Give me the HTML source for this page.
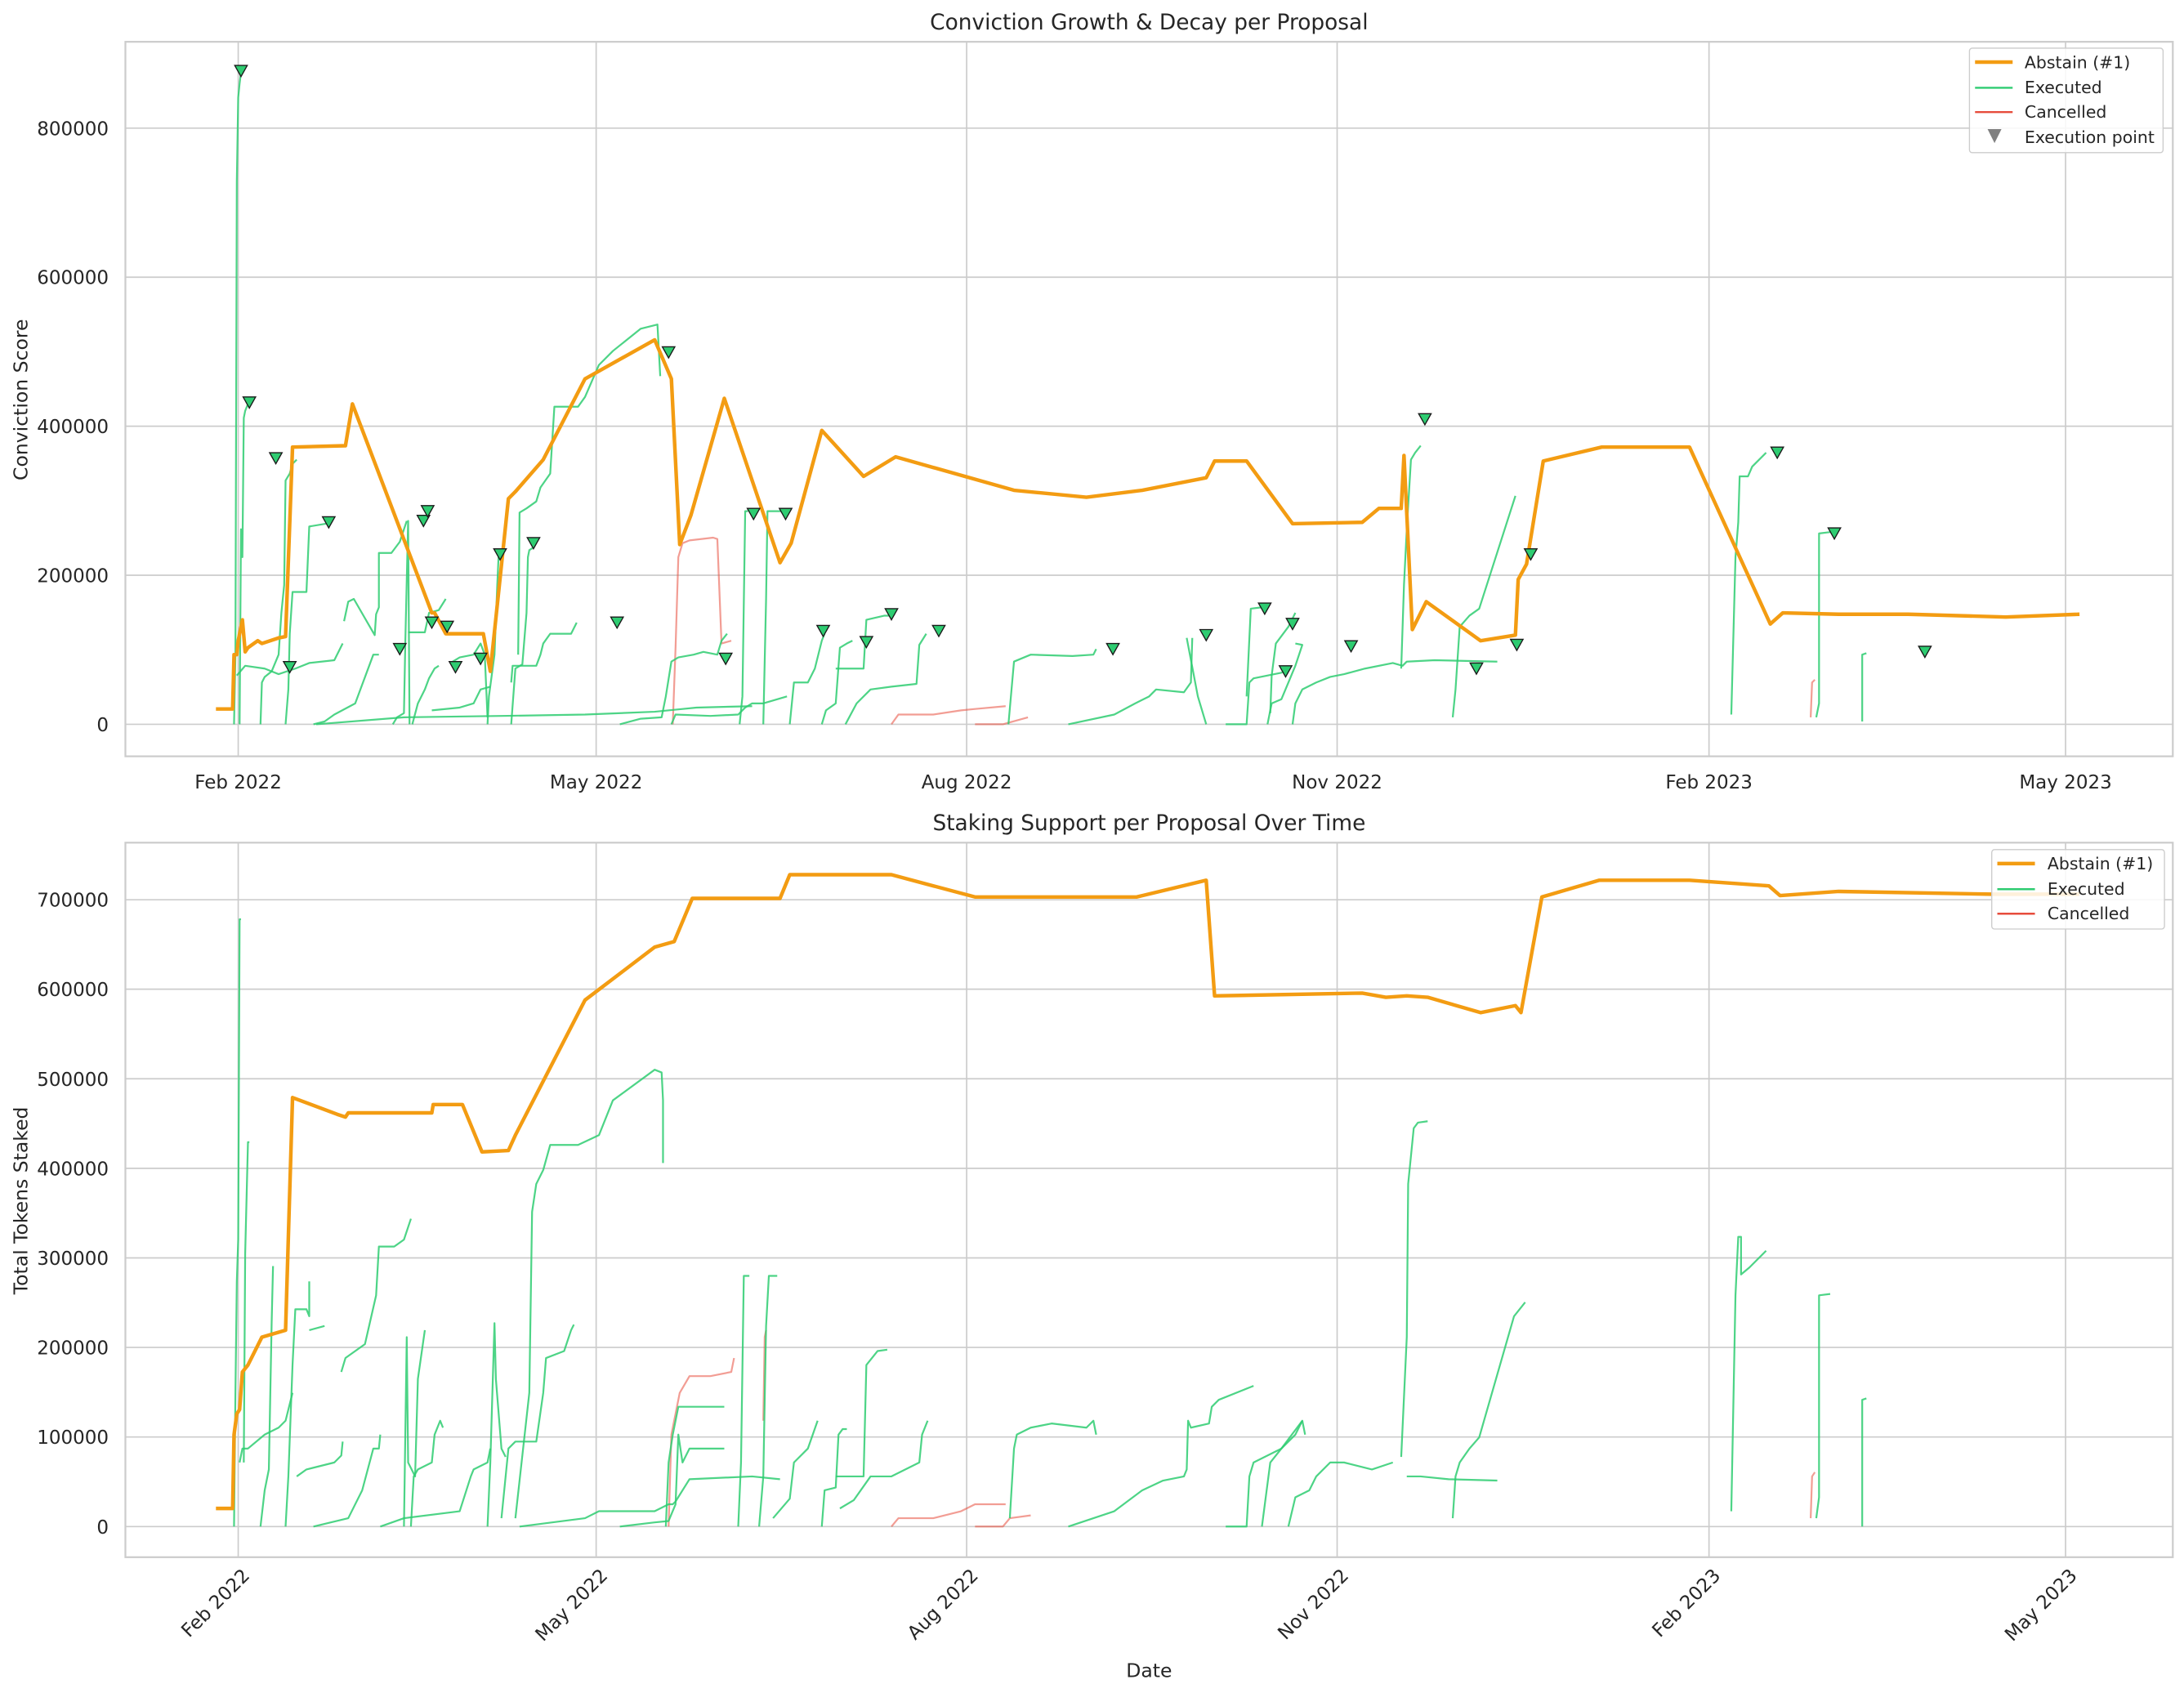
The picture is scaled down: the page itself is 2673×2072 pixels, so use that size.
<!DOCTYPE html>
<html><head><meta charset="utf-8"><style>html,body{margin:0;padding:0;background:#fff}svg{display:block}text{font-family:"DejaVu Sans","Liberation Sans",sans-serif;fill:#262626}</style></head><body>
<svg width="2673" height="2072" viewBox="0 0 1568 1215.5" xmlns="http://www.w3.org/2000/svg">
<defs>
<clipPath id="c1"><rect x="90" y="30" width="1470" height="513"/></clipPath>
<clipPath id="c2"><rect x="90" y="605" width="1470" height="513"/></clipPath>
<symbol id="m" viewBox="-5 -5 10 10" overflow="visible"><path d="M-4.5,-4 L4.5,-4 L0,4 Z" fill="#2ecc71" stroke="#1a1a1a" stroke-width="0.8"/></symbol>
</defs>
<rect width="1568" height="1216" fill="#fff"/>
<!-- TOP -->
<g stroke="#cccccc" stroke-width="1">
<line x1="90" x2="1560" y1="520" y2="520"/><line x1="90" x2="1560" y1="413" y2="413"/><line x1="90" x2="1560" y1="306" y2="306"/><line x1="90" x2="1560" y1="199" y2="199"/><line x1="90" x2="1560" y1="92" y2="92"/>
<line x1="171" x2="171" y1="30" y2="543"/><line x1="428" x2="428" y1="30" y2="543"/><line x1="694" x2="694" y1="30" y2="543"/><line x1="960" x2="960" y1="30" y2="543"/><line x1="1227" x2="1227" y1="30" y2="543"/><line x1="1483" x2="1483" y1="30" y2="543"/>
</g>
<rect x="90" y="30" width="1470" height="513" fill="none" stroke="#cccccc" stroke-width="1.3"/>
<g font-size="13.5" text-anchor="end"><text x="78" y="525">0</text><text x="78" y="418">200000</text><text x="78" y="311">400000</text><text x="78" y="204">600000</text><text x="78" y="97">800000</text></g>
<g font-size="13.5" text-anchor="middle"><text x="171" y="566">Feb 2022</text><text x="428" y="566">May 2022</text><text x="694" y="566">Aug 2022</text><text x="960" y="566">Nov 2022</text><text x="1227" y="566">Feb 2023</text><text x="1483" y="566">May 2023</text></g>
<text x="825" y="21" font-size="15.5" text-anchor="middle">Conviction Growth &amp; Decay per Proposal</text>
<text transform="translate(19.6,287) rotate(-90)" font-size="13.8" text-anchor="middle">Conviction Score</text>
<g clip-path="url(#c1)" fill="none" stroke-linejoin="round">
<g stroke="#e74c3c" stroke-opacity="0.55" stroke-width="1.3">
<polyline points="483,520 485,465 487,400 490,390 495,388 512,386 515,387 518,462 525,460"/>
<polyline points="640,520 645,513 670,513 690,510 700,509 722,507"/>
<polyline points="700,520 720,520 738,515"/>
<polyline points="1300,515 1301,490 1303,488"/>
</g>
<g stroke="#2ecc71" stroke-opacity="0.85" stroke-width="1.3">
<polyline points="168,520 169,470 170,130 171,70 172,60 173,52"/>
<polyline points="172,520 173,380 174,400 175,300 176,295 178,290"/>
<polyline points="187,520 188,490 190,486 195,482 200,470 202,440 204,420 205,345 208,340 210,333 213,330"/>
<polyline points="205,520 207,495 208,455 210,425 220,425 222,378 234,376"/>
<polyline points="170,485 176,478 190,480 200,484 212,480 222,476 240,474 246,462"/>
<polyline points="225,520 233,518 240,513 255,505 268,470 272,470"/>
<polyline points="227,520 290,515 360,514 420,513 470,511 490,509 500,508 540,507"/>
<polyline points="247,446 250,432 254,430 269,456 270,441 272,436 272,397 281,397 287,389 292,374"/>
<polyline points="282,520 285,515 290,512 291,460 293,374 294,520"/>
<polyline points="293,454 305,454 308,440 315,438 320,430"/>
<polyline points="296,520 300,505 305,495 308,487 312,480 315,478"/>
<polyline points="310,510 330,508 340,505 345,495 352,493"/>
<polyline points="325,475 330,472 340,470 345,462 348,470 350,515"/>
<polyline points="350,520 351,500 355,470 357,420 358,398"/>
<polyline points="367,520 370,480 375,477 378,440 379,400 380,395 383,393"/>
<polyline points="367,490 368,478 385,478 388,470 390,462 395,455 410,455 414,447"/>
<polyline points="372,470 373,368 378,365 385,360 388,350 395,340 398,292 415,292 420,285 430,262 440,252 460,236 472,233 474,270"/>
<polyline points="445,520 460,516 475,515 478,500 482,475 487,472 498,470 505,468 515,470 518,460 522,455"/>
<polyline points="482,520 485,513 510,514 530,513 535,508 540,505 548,505 565,500"/>
<polyline points="531,520 533,500 535,367 537,367"/>
<polyline points="548,520 550,430 551,367 555,367 566,367"/>
<polyline points="567,520 570,490 580,490 585,480 590,460 592,455"/>
<polyline points="590,520 593,510 600,505 603,465 608,462 612,460"/>
<polyline points="607,520 615,505 625,495 640,493 658,491 660,463 665,455"/>
<polyline points="600,480 620,480 622,445 635,442 640,442"/>
<polyline points="724,520 728,475 740,470 770,471 785,470 787,466"/>
<polyline points="767,520 800,513 815,505 825,500 830,495 850,497 855,490 856,458"/>
<polyline points="852,458 860,500 866,520"/>
<polyline points="880,520 895,520 897,490 900,487 920,483 925,480"/>
<polyline points="895,500 898,437 906,436"/>
<polyline points="910,520 913,505 920,502 925,490 930,478 935,463 930,462"/>
<polyline points="912,512 913,485 916,462 925,450 930,440"/>
<polyline points="928,520 930,505 935,495 945,490 955,486 965,484 980,480 1000,476 1007,478 1010,475 1030,474 1075,475"/>
<polyline points="1006,480 1008,420 1010,380 1013,330 1016,325 1020,320"/>
<polyline points="1043,515 1045,495 1048,450 1055,442 1062,437 1088,356"/>
<polyline points="1243,513 1246,400 1248,375 1249,342 1255,342 1258,335 1268,325"/>
<polyline points="1304,515 1306,505 1306,383 1314,382"/>
<polyline points="1337,518 1337,470 1340,469"/>
</g>
<polyline stroke="#f39c12" stroke-width="2.6" points="155,509 167,509 168,470 170,470 171,460 174,445 176,468 178,465 185,460 188,462 200,458 205,457 210,321 248,320 253,290 310,440 312,440 320,455 347,455 352,482 365,358 370,353 390,330 420,272 470,244 482,272 488,391 496,370 520,286 560,404 568,390 590,309 620,342 643,328 728,352 780,357 820,352 866,343 872,331 895,331 928,376 978,375 990,365 1006,365 1008,327 1014,452 1024,432 1063,460 1088,456 1090,416 1096,405 1108,331 1150,321 1213,321 1271,448 1280,440 1320,441 1370,441 1440,443 1493,441"/>
</g>
<g>
<use href="#m" x="168" y="46" width="10" height="10"/><use href="#m" x="174" y="284" width="10" height="10"/><use href="#m" x="193" y="324" width="10" height="10"/><use href="#m" x="231" y="370" width="10" height="10"/><use href="#m" x="203" y="474" width="10" height="10"/><use href="#m" x="282" y="461" width="10" height="10"/><use href="#m" x="299" y="369" width="10" height="10"/><use href="#m" x="302" y="362" width="10" height="10"/><use href="#m" x="305" y="442" width="10" height="10"/><use href="#m" x="316" y="445" width="10" height="10"/><use href="#m" x="322" y="474" width="10" height="10"/><use href="#m" x="340" y="468" width="10" height="10"/><use href="#m" x="354" y="393" width="10" height="10"/><use href="#m" x="378" y="385" width="10" height="10"/><use href="#m" x="438" y="442" width="10" height="10"/><use href="#m" x="475" y="248" width="10" height="10"/><use href="#m" x="516" y="468" width="10" height="10"/><use href="#m" x="536" y="364" width="10" height="10"/><use href="#m" x="559" y="364" width="10" height="10"/><use href="#m" x="586" y="448" width="10" height="10"/><use href="#m" x="617" y="456" width="10" height="10"/><use href="#m" x="635" y="436" width="10" height="10"/><use href="#m" x="669" y="448" width="10" height="10"/><use href="#m" x="794" y="461" width="10" height="10"/><use href="#m" x="861" y="451" width="10" height="10"/><use href="#m" x="903" y="432" width="10" height="10"/><use href="#m" x="918" y="477" width="10" height="10"/><use href="#m" x="923" y="443" width="10" height="10"/><use href="#m" x="965" y="459" width="10" height="10"/><use href="#m" x="1018" y="296" width="10" height="10"/><use href="#m" x="1055" y="475" width="10" height="10"/><use href="#m" x="1084" y="458" width="10" height="10"/><use href="#m" x="1094" y="393" width="10" height="10"/><use href="#m" x="1271" y="320" width="10" height="10"/><use href="#m" x="1312" y="378" width="10" height="10"/><use href="#m" x="1377" y="463" width="10" height="10"/>
</g>
<!-- top legend -->
<rect x="1414" y="34.6" width="139" height="75" rx="2" fill="#fff" fill-opacity="0.85" stroke="#cccccc" stroke-width="0.8"/>
<line x1="1418" x2="1445" y1="44.6" y2="44.6" stroke="#f39c12" stroke-width="2.6"/>
<line x1="1418" x2="1445" y1="63" y2="63" stroke="#2ecc71" stroke-width="1.4"/>
<line x1="1418" x2="1445" y1="80.5" y2="80.5" stroke="#e74c3c" stroke-width="1.4"/>
<path d="M1427,92.7 L1437,92.7 L1432,102.7 Z" fill="#808080"/>
<g font-size="12"><text x="1453.6" y="48.9">Abstain (#1)</text><text x="1453.6" y="66.9">Executed</text><text x="1453.6" y="84.6">Cancelled</text><text x="1453.6" y="102.7">Execution point</text></g>

<!-- BOTTOM -->
<g stroke="#cccccc" stroke-width="1">
<line x1="90" x2="1560" y1="1096" y2="1096"/><line x1="90" x2="1560" y1="1031.7" y2="1031.7"/><line x1="90" x2="1560" y1="967.4" y2="967.4"/><line x1="90" x2="1560" y1="903.1" y2="903.1"/><line x1="90" x2="1560" y1="838.8" y2="838.8"/><line x1="90" x2="1560" y1="774.5" y2="774.5"/><line x1="90" x2="1560" y1="710.2" y2="710.2"/><line x1="90" x2="1560" y1="646" y2="646"/>
<line x1="171" x2="171" y1="605" y2="1118"/><line x1="428" x2="428" y1="605" y2="1118"/><line x1="694" x2="694" y1="605" y2="1118"/><line x1="960" x2="960" y1="605" y2="1118"/><line x1="1227" x2="1227" y1="605" y2="1118"/><line x1="1483" x2="1483" y1="605" y2="1118"/>
</g>
<rect x="90" y="605" width="1470" height="513" fill="none" stroke="#cccccc" stroke-width="1.3"/>
<g font-size="13.5" text-anchor="end"><text x="78" y="1101">0</text><text x="78" y="1036.7">100000</text><text x="78" y="972.4">200000</text><text x="78" y="908.1">300000</text><text x="78" y="843.8">400000</text><text x="78" y="779.5">500000</text><text x="78" y="715.2">600000</text><text x="78" y="651">700000</text></g>
<g font-size="13.5" text-anchor="end">
<text transform="translate(180,1132) rotate(-45)">Feb 2022</text><text transform="translate(437,1132) rotate(-45)">May 2022</text><text transform="translate(703,1132) rotate(-45)">Aug 2022</text><text transform="translate(969,1132) rotate(-45)">Nov 2022</text><text transform="translate(1236,1132) rotate(-45)">Feb 2023</text><text transform="translate(1492,1132) rotate(-45)">May 2023</text>
</g>
<text x="825" y="596" font-size="15.5" text-anchor="middle">Staking Support per Proposal Over Time</text>
<text transform="translate(19.6,862) rotate(-90)" font-size="13.8" text-anchor="middle">Total Tokens Staked</text>
<text x="825" y="1204" font-size="13.8" text-anchor="middle">Date</text>
<g clip-path="url(#c2)" fill="none" stroke-linejoin="round">
<g stroke="#e74c3c" stroke-opacity="0.55" stroke-width="1.3">
<polyline points="480,1096 482,1030 488,1000 495,988 510,988 525,985 527,975"/>
<polyline points="640,1096 645,1090 670,1090 690,1085 700,1080 722,1080"/>
<polyline points="700,1096 720,1096 725,1090 740,1088"/>
<polyline points="1300,1090 1301,1060 1303,1057"/>
<polyline points="548,1020 549,960 550,955"/>
</g>
<g stroke="#2ecc71" stroke-opacity="0.85" stroke-width="1.3">
<polyline points="168,1096 169,1000 170,920 171,890 172,660 173,660"/>
<polyline points="175,1050 176,900 178,820 179,820"/>
<polyline points="172,1050 174,1040 178,1040 190,1030 200,1025 205,1020 210,1000"/>
<polyline points="187,1096 190,1070 193,1055 195,950 196,909"/>
<polyline points="205,1096 207,1060 210,980 212,940 220,940 222,945 222,920"/>
<polyline points="222,955 233,952"/>
<polyline points="213,1060 220,1055 240,1050 245,1045 246,1035"/>
<polyline points="225,1096 250,1090 260,1070 268,1040 272,1040 273,1030"/>
<polyline points="245,985 248,975 255,970 262,965 270,930 272,895 283,895 290,890 295,875"/>
<polyline points="290,1096 292,960 293,1050 298,1060 300,990 305,955"/>
<polyline points="295,1096 297,1060 300,1055 310,1050 312,1030 316,1020 318,1025"/>
<polyline points="273,1096 290,1090 330,1085 338,1060 340,1055 350,1050 352,1040"/>
<polyline points="350,1096 352,1050 355,950 356,990 360,1040 363,1046"/>
<polyline points="360,1090 365,1040 370,1035 385,1035 390,1000 392,975 405,970 410,955 412,951"/>
<polyline points="370,1090 380,1000 382,870 385,850 390,840 395,822 415,822 430,815 440,790 470,768 475,770 476,790 476,835"/>
<polyline points="373,1096 420,1090 430,1085 440,1085 470,1085 480,1080 483,1080 485,1078 495,1062 540,1060 560,1062"/>
<polyline points="445,1096 470,1093 480,1092 485,1080 487,1030 490,1050 495,1040 520,1040"/>
<polyline points="478,1096 480,1050 483,1030 487,1010 500,1010 520,1010"/>
<polyline points="530,1096 532,1050 534,916 538,916"/>
<polyline points="545,1096 548,1060 550,952 552,916 558,916"/>
<polyline points="555,1090 567,1076 570,1050 580,1040 587,1020"/>
<polyline points="590,1096 592,1070 600,1068 602,1030 605,1026 608,1026"/>
<polyline points="603,1083 613,1077 625,1060 640,1060 660,1050 662,1030 666,1020"/>
<polyline points="600,1060 620,1060 622,980 630,970 637,969"/>
<polyline points="725,1090 728,1040 730,1030 740,1025 755,1022 780,1025 785,1020 787,1030"/>
<polyline points="767,1096 800,1085 820,1070 835,1063 850,1060 852,1055 853,1020 855,1025 868,1022 870,1010 875,1005 900,995"/>
<polyline points="880,1096 895,1096 897,1060 900,1050 920,1040 930,1030 935,1020"/>
<polyline points="906,1096 912,1050 920,1040 935,1020 937,1030"/>
<polyline points="925,1096 930,1075 940,1070 945,1060 955,1050 965,1050 985,1055 1000,1050"/>
<polyline points="1006,1046 1010,960 1011,850 1013,830 1015,810 1018,806 1025,805"/>
<polyline points="1010,1060 1020,1060 1040,1062 1075,1063"/>
<polyline points="1043,1090 1045,1060 1048,1050 1055,1040 1062,1032 1087,945 1095,935"/>
<polyline points="1243,1085 1246,930 1248,888 1250,888 1250,915 1256,910 1268,898"/>
<polyline points="1304,1090 1306,1075 1306,930 1314,929"/>
<polyline points="1337,1096 1337,1005 1340,1004"/>
</g>
<polyline stroke="#f39c12" stroke-width="2.6" points="155,1083 167,1083 168,1030 170,1015 172,1012 174,985 178,980 188,960 205,955 210,788 242,800 248,802 250,799 310,799 311,793 332,793 346,827 365,826 370,815 420,718 470,680 484,676 497,645 560,645 567,628 640,628 700,644 816,644 866,632 872,715 978,713 995,716 1010,715 1025,716 1063,727 1088,722 1092,727 1107,644 1148,632 1213,632 1270,636 1278,643 1320,640 1430,642 1493,642"/>
</g>
<!-- bottom legend -->
<rect x="1430" y="610" width="124" height="57" rx="2" fill="#fff" fill-opacity="0.85" stroke="#cccccc" stroke-width="0.8"/>
<line x1="1434" x2="1461" y1="620" y2="620" stroke="#f39c12" stroke-width="2.6"/>
<line x1="1434" x2="1461" y1="638.4" y2="638.4" stroke="#2ecc71" stroke-width="1.4"/>
<line x1="1434" x2="1461" y1="656" y2="656" stroke="#e74c3c" stroke-width="1.4"/>
<g font-size="12"><text x="1470" y="624.3">Abstain (#1)</text><text x="1470" y="642.3">Executed</text><text x="1470" y="660">Cancelled</text></g>
</svg>
</body></html>
